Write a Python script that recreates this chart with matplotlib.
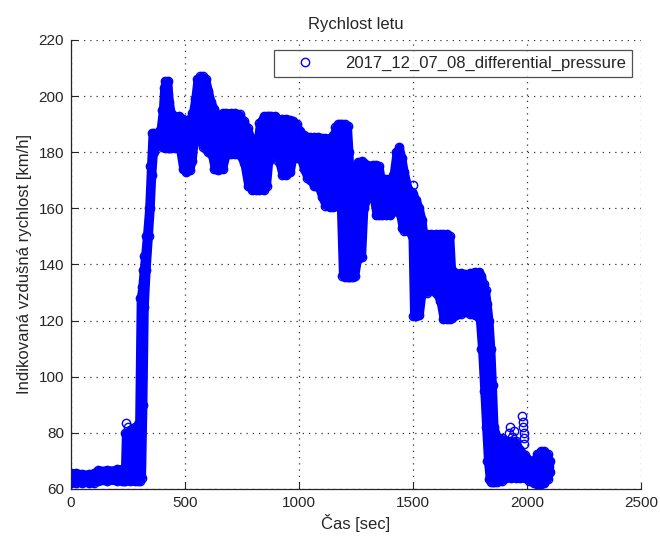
import matplotlib
matplotlib.use("Agg")
import matplotlib.pyplot as plt
import numpy as np

plt.rcParams['font.family'] = ['Liberation Sans', 'DejaVu Sans']

# ---- data ----
time_s = [0, 20, 50, 80, 100, 120, 160, 200, 222, 234, 238, 260, 280, 296, 303, 310,
          316, 322, 330, 340, 348, 355, 362, 375, 390, 400, 406, 412, 425, 432, 440,
          455, 475, 490, 505, 520, 532, 542, 552, 565, 580, 592, 603, 615, 628, 645,
          665, 680, 700, 720, 740, 758, 775, 795, 812, 826, 845, 858, 868, 878, 895,
          910, 925, 945, 962, 975, 990, 1005, 1020, 1035, 1050, 1065, 1085, 1100,
          1115, 1135, 1150, 1160, 1172, 1180, 1190, 1200, 1213, 1220, 1227, 1235,
          1245, 1257, 1275, 1285, 1300, 1325, 1338, 1352, 1362, 1380, 1400, 1412,
          1425, 1440, 1452, 1462, 1480, 1495, 1502, 1515, 1528, 1540, 1550, 1562,
          1580, 1600, 1618, 1632, 1650, 1662, 1670, 1690, 1710, 1730, 1750, 1770,
          1790, 1800, 1810, 1818, 1826, 1834, 1842, 1849, 1856, 1870, 1890, 1910,
          1930, 1950, 1970, 1990, 2010, 2030, 2045, 2060, 2075, 2090, 2100]

speed_low = [62.3, 62.3, 62.3, 62.2, 62.3, 62.8, 63.0, 63.0, 63.0, 63.0, 63.0, 62.8, 62.8,
             63.0, 63.0, 64.0, 90.0, 125.0, 138.0, 150.0, 160.0, 172.0, 180.0, 183.0,
             183.0, 182.0, 182.0, 181.5, 181.5, 181.5, 181.5, 181.5, 181.5, 174.0,
             173.0, 173.5, 177.0, 185.0, 188.0, 184.0, 182.0, 181.0, 180.0, 179.5,
             174.0, 173.5, 174.0, 179.0, 179.5, 179.5, 179.0, 176.0, 168.0, 166.5,
             166.5, 166.5, 166.5, 168.0, 177.0, 183.5, 180.0, 177.0, 172.0, 172.0,
             173.0, 179.0, 178.0, 178.0, 174.0, 171.0, 170.0, 168.0, 167.5, 164.0,
             161.0, 160.5, 160.5, 161.0, 164.0, 163.0, 136.0, 135.5, 135.5, 135.5,
             135.5, 135.5, 136.0, 142.0, 142.5, 160.0, 164.0, 164.0, 157.5, 157.5,
             157.5, 157.5, 157.5, 159.0, 159.0, 158.5, 153.0, 152.0, 152.0, 150.0,
             121.5, 121.5, 122.0, 130.0, 132.0, 130.0, 131.0, 130.0, 127.0, 120.5,
             120.5, 120.5, 121.0, 122.0, 122.5, 123.0, 122.5, 122.0, 121.0, 110.0,
             95.0, 82.0, 70.0, 63.5, 62.5, 62.5, 62.5, 62.5, 63.0, 64.0, 64.0, 64.0,
             64.0, 64.0, 63.0, 62.0, 61.8, 61.8, 62.0, 63.5, 66.0]

speed_high = [65.8, 65.8, 65.5, 65.3, 65.8, 66.8, 66.8, 67.0, 67.2, 67.2, 80.0, 81.0, 82.0,
              83.0, 128.0, 132.0, 138.0, 143.0, 150.0, 160.0, 175.0, 187.0, 187.0,
              187.0, 188.0, 195.0, 203.0, 205.5, 205.5, 198.0, 194.0, 193.0, 193.0,
              192.0, 191.0, 192.0, 194.0, 199.0, 206.0, 207.0, 207.0, 206.0, 202.0,
              198.0, 195.5, 193.0, 194.0, 194.0, 194.0, 194.0, 193.5, 191.0, 188.5,
              184.0, 181.0, 190.5, 193.0, 193.0, 193.0, 193.0, 193.0, 192.0, 192.0,
              192.0, 191.5, 191.0, 190.0, 187.5, 186.0, 185.5, 185.5, 185.5, 185.5,
              185.0, 185.0, 185.0, 186.0, 189.0, 190.0, 190.0, 190.0, 190.0, 189.5,
              180.0, 164.0, 168.0, 172.0, 176.5, 177.0, 176.0, 175.5, 175.5, 175.5,
              175.0, 170.0, 170.5, 170.5, 172.0, 180.0, 182.0, 178.0, 173.0, 167.0,
              166.0, 165.0, 163.0, 160.0, 156.0, 149.0, 151.0, 151.0, 151.0, 151.0,
              151.0, 151.0, 150.0, 138.0, 137.0, 137.0, 136.5, 137.0, 137.5, 137.5,
              136.0, 133.0, 131.0, 126.0, 120.0, 110.0, 97.0, 82.0, 78.5, 78.0, 77.0,
              77.0, 77.0, 74.0, 72.0, 70.5, 70.0, 72.5, 73.5, 73.5, 72.5, 70.0]

# isolated samples standing out of the band
outlier_t = [241, 252, 1498, 1920, 1925, 1935, 1945, 1980, 1982, 1983, 1985, 1986, 1988]
outlier_v = [83.4, 82.0, 168.4, 80.0, 82.0, 78.5, 80.5, 86.0, 84.0, 82.0, 80.0, 78.0, 76.0]

series_label = '2017_12_07_08_differential_pressure'
x_ticks = [0, 500, 1000, 1500, 2000, 2500]
y_ticks = [60, 80, 100, 120, 140, 160, 180, 200, 220]

BLUE = '#0000ff'
TXT = '#262626'
fig = plt.figure(figsize=(6.6, 5.36), dpi=100)
ax = fig.add_axes([71 / 660, 1 - 489 / 536, 570 / 660, 449 / 536])

t = np.array(time_s, dtype=float)
lo = np.array(speed_low)
hi = np.array(speed_high)

# dense cloud of samples -> band with marker-sized outline
ax.fill_between(t, lo, hi, facecolor=BLUE, edgecolor=BLUE, linewidth=5.6,
                joinstyle='round', capstyle='round', zorder=2)
ax.plot(t, lo, 'o', mfc='none', mec=BLUE, ms=6, mew=1, zorder=3)
ax.plot(t, hi, 'o', mfc='none', mec=BLUE, ms=6, mew=1, zorder=3)
ax.plot(outlier_t, outlier_v, 'o', mfc='none', mec=BLUE, ms=6, mew=1, zorder=3)

handle, = ax.plot([], [], 'o', mfc='none', mec=BLUE, ms=6, mew=1, label=series_label)

ax.set_xlim(0, 2500)
ax.set_ylim(60, 220)
ax.set_xticks(x_ticks)
ax.set_yticks(y_ticks)
ax.tick_params(direction='in', length=5, width=0.8, labelsize=11, colors=TXT, pad=5)
for s in ['top', 'right']:
    ax.spines[s].set_visible(False)
for s in ['left', 'bottom']:
    ax.spines[s].set_color(TXT)
    ax.spines[s].set_linewidth(0.9)

ax.grid(True, linestyle=(0, (1, 4)), linewidth=0.9, color='#333333')
ax.set_axisbelow(True)

ax.set_title('Rychlost letu', fontsize=12, color=TXT, pad=8)
ax.set_xlabel('Čas [sec]', fontsize=12, color=TXT, labelpad=3)
ax.set_ylabel('Indikovaná vzdušná rychlost [km/h]', fontsize=12, color=TXT,
              labelpad=5)

leg = ax.legend(handles=[handle], loc='upper right', bbox_to_anchor=(0.984, 0.978),
                borderaxespad=0, fontsize=12, frameon=True, fancybox=False,
                handlelength=3.0, handletextpad=0.9, borderpad=0.35)
leg.get_frame().set_edgecolor(TXT)
leg.get_frame().set_linewidth(0.9)
for txt in leg.get_texts():
    txt.set_color(TXT)

fig.savefig('out.png', dpi=100)
